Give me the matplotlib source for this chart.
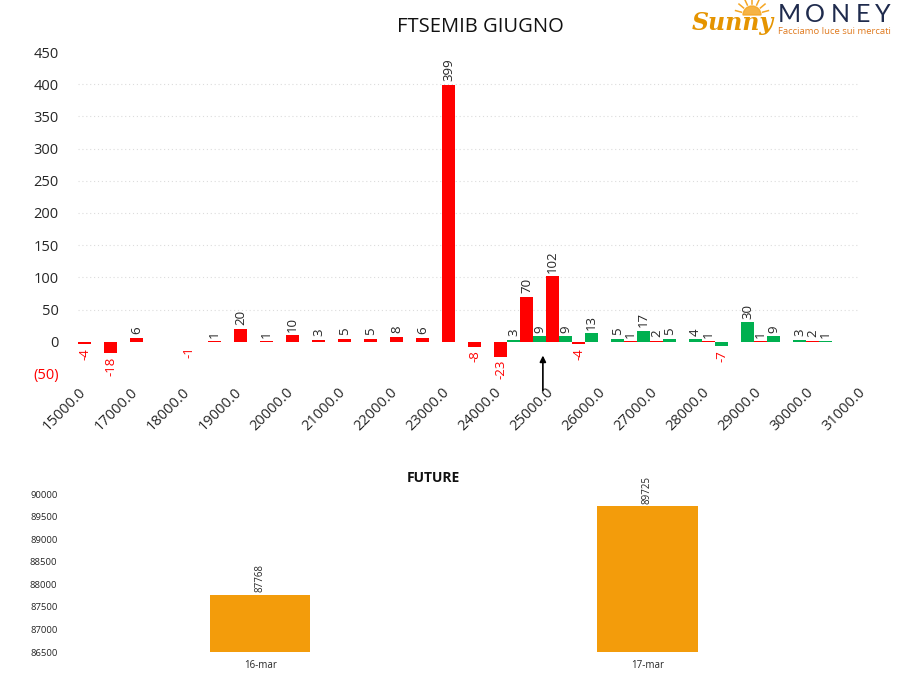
import matplotlib
matplotlib.use("Agg")
import matplotlib.pyplot as plt
from matplotlib.patches import Wedge
import numpy as np

plt.rcParams['font.family'] = ['Open Sans', 'DejaVu Sans']

# ---------------- data ----------------
tick_labels = ["15000.0", "17000.0", "18000.0", "19000.0", "20000.0", "21000.0",
               "22000.0", "23000.0", "24000.0", "25000.0", "26000.0", "27000.0",
               "28000.0", "29000.0", "30000.0", "31000.0"]
# 30 category slots (None = no bar)
red_values = [-4, -18, 6, None, -1, 1, 20, 1, 10, 3, 5, 5, 8, 6, 399, -8, -23, 70,
              102, -4, None, 1, 2, None, 1, None, 1, None, 2, None]
green_values = [None] * 16 + [3, 9, 9, 13, 5, 17, 5, 4, -7, 30, 9, 3, 1, None]
y_ticks = [-50, 0, 50, 100, 150, 200, 250, 300, 350, 400, 450]
marker_pos = 17.88  # arrow position (slot units)

future_dates = ["16-mar", "17-mar"]
future_values = [87768, 89725]
future_ticks = [86500, 87000, 87500, 88000, 88500, 89000, 89500, 90000]

RED = "#FF0000"
GREEN = "#00B050"
ORANGE = "#F39C0B"
TXT = "#262626"

W, H = 908, 679
fig = plt.figure(figsize=(W / 100, H / 100), dpi=100)


def px_axes(x0, y0, x1, y1):
    return fig.add_axes([x0 / W, 1 - y1 / H, (x1 - x0) / W, (y1 - y0) / H])


def label_bar(axis, x, v):
    if v >= 0:
        axis.annotate(str(v), (x, v), xytext=(0, 2.5), textcoords='offset points',
                      rotation=90, ha='center', va='bottom', fontsize=9.5, color=TXT)
    else:
        axis.annotate(str(v), (x, v), xytext=(0, -2.5), textcoords='offset points',
                      rotation=90, ha='center', va='top', fontsize=9.5, color=RED)


# ---------------- top chart ----------------
ax = px_axes(78, 52, 858, 374)
n = len(red_values)
for i, v in enumerate(red_values):
    if v is None:
        continue
    ax.bar(i + 0.25, v, width=0.5, color=RED, zorder=3)
    label_bar(ax, i + 0.25, v)
for i, v in enumerate(green_values):
    if v is None:
        continue
    ax.bar(i + 0.75, v, width=0.5, color=GREEN, zorder=3)
    label_bar(ax, i + 0.75, v)

ax.set_xlim(0, n)
ax.set_ylim(-50, 450)
ax.set_yticks(y_ticks)
ax.set_yticklabels(["(50)" if t < 0 else str(t) for t in y_ticks], fontsize=10.5, color=TXT)
ax.get_yticklabels()[0].set_color(RED)
for t in y_ticks:
    if 0 < t < 450:
        ax.axhline(t, color='#DCDCDC', lw=0.8, ls=(0, (1, 2.5)), zorder=1)
ax.set_xticks(np.arange(0, n + 1, 2))
ax.set_xticklabels(tick_labels, rotation=45, ha='right', va='top',
                   rotation_mode='anchor', fontsize=10.5, color=TXT)
ax.tick_params(length=0)
ax.tick_params(axis='y', pad=14)
ax.tick_params(axis='x', pad=8)
for s in ax.spines.values():
    s.set_visible(False)
ax.annotate("", xy=(marker_pos, -17), xytext=(marker_pos, -80),
            arrowprops=dict(arrowstyle='-|>', color='black', lw=1.2, mutation_scale=9),
            annotation_clip=False)
fig.text(480 / W, 1 - 27 / H, "FTSEMIB GIUGNO", ha='center', va='center',
         fontsize=14.5, color='#111111')

# ---------------- bottom chart ----------------
bx = px_axes(66.5, 494, 841, 652)
bpos = np.arange(len(future_values))
bx.bar(bpos, future_values, width=0.26, color=ORANGE, zorder=3)
for x, v in zip(bpos, future_values):
    bx.annotate(str(v), (x, v), xytext=(0, 2), textcoords='offset points',
                rotation=90, ha='center', va='bottom', fontsize=7, color=TXT)
bx.set_xlim(-0.5, len(future_values) - 0.5)
bx.set_ylim(86500, 90000)
bx.set_yticks(future_ticks)
bx.set_yticklabels([str(t) for t in future_ticks], fontsize=6.8, color=TXT)
bx.set_xticks(bpos)
bx.set_xticklabels(future_dates, fontsize=7, color=TXT)
bx.tick_params(length=0)
bx.tick_params(axis='y', pad=6.5)
bx.tick_params(axis='x', pad=6)
for s in bx.spines.values():
    s.set_visible(False)
fig.text(433 / W, 1 - 478 / H, "FUTURE", ha='center', va='center',
         fontsize=10, fontweight='bold', color='#111111')

# ---------------- logo ----------------
lg = px_axes(690, 0, 905, 42)
lg.set_xlim(690, 905)
lg.set_ylim(42, 0)
lg.axis('off')
lg.add_patch(Wedge((752, 15), 9, 180, 360, color='#F5A623', alpha=0.85, zorder=1))
for ang in np.linspace(195, 345, 7):
    a = np.deg2rad(ang)
    lg.plot([752 + 11 * np.cos(a), 752 + 17 * np.cos(a)],
            [15 + 11 * np.sin(a), 15 + 17 * np.sin(a)], color='#F5A623', lw=1.1, zorder=1)
lg.text(692, 23, "Sunny", fontsize=17, fontstyle='italic', fontweight='bold',
        color='#E59400', family='DejaVu Serif', va='center', ha='left', zorder=2)
for ch, cx in zip("MONEY", [789, 815, 840, 863, 883]):
    lg.text(cx, 15, ch, fontsize=18, color='#1F2B4D', va='center', ha='center',
            family='Lato')
lg.text(778, 31, "Facciamo luce sui mercati", fontsize=6.8, color='#E07B20',
        va='center', ha='left')

fig.savefig("out.png", dpi=100)
